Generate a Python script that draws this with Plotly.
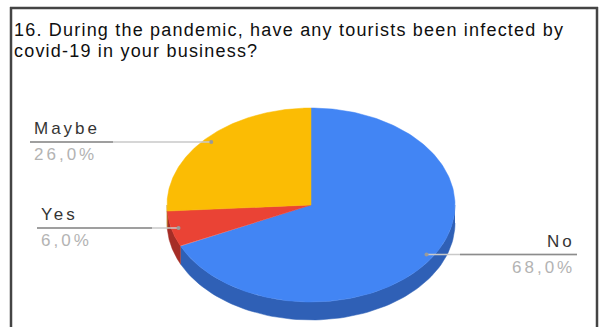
import numpy as np
import plotly.graph_objects as go

# Survey answers
labels = ["No", "Yes", "Maybe"]
values = [68.0, 6.0, 26.0]
pct_text = ["68,0%", "6,0%", "26,0%"]
title_lines = ["16. During the pandemic, have any tourists been infected by",
               "covid-19 in your business?"]

# Styling
top_colors = {"No": "#4285F4", "Yes": "#EA4335", "Maybe": "#FBBC04"}
side_colors = {"No": "#2F60B6", "Yes": "#A52D26", "Maybe": "#B98A05"}
W, H = 600, 327
cx, cy, rx, ry, depth = 311, 205, 144, 97, 18
label_pos = {
    "No": dict(align="right", edge=577, dark=(460, 577)),
    "Yes": dict(align="left", edge=37, dark=(37, 152)),
    "Maybe": dict(align="left", edge=30, dark=(30, 113)),
}


def ellipse(theta_deg, r=1.0, dz=0.0):
    """Point on the tilted pie; angle measured clockwise from 12 o'clock."""
    t = np.radians(theta_deg)
    return cx + r * rx * np.sin(t), cy - r * ry * np.cos(t) + dz


fig = go.Figure()

# Slice angles from the values
total = sum(values)
bounds = []
start = 0.0
for lab, v in zip(labels, values):
    end = start + 360.0 * v / total
    bounds.append((lab, start, end))
    start = end

# Side walls (front half only)
for lab, a0, a1 in bounds:
    lo, hi = max(a0, 90.0), min(a1, 270.0)
    if hi <= lo:
        continue
    th = np.linspace(lo, hi, 80)
    xt, yt = ellipse(th)
    xb, yb = ellipse(th[::-1], dz=depth)
    fig.add_trace(go.Scatter(
        x=np.concatenate([xt, xb]), y=np.concatenate([yt, yb]),
        fill="toself", fillcolor=side_colors[lab], mode="lines",
        line=dict(width=0.5, color=side_colors[lab]), hoverinfo="skip"))

# Top faces
for lab, a0, a1 in bounds:
    th = np.linspace(a0, a1, 200)
    xa, ya = ellipse(th)
    fig.add_trace(go.Scatter(
        x=np.concatenate([[cx], xa, [cx]]), y=np.concatenate([[cy], ya, [cy]]),
        fill="toself", fillcolor=top_colors[lab], mode="lines",
        line=dict(width=0.5, color=top_colors[lab]), hoverinfo="skip"))

# Leader lines and labels
name_font = dict(family="Liberation Sans, Arial", size=17, color="#353535")
pct_font = dict(family="Liberation Sans, Arial", size=17, color="#b3b3b3")
spaced = '<span style="letter-spacing:3px">{}</span>'
for (lab, a0, a1), pct in zip(bounds, pct_text):
    ax, ay = ellipse((a0 + a1) / 2.0, r=0.95)
    st = label_pos[lab]
    fig.add_trace(go.Scatter(x=[st["edge"], ax], y=[ay, ay], mode="lines",
                             line=dict(color="#c9c9c9", width=1.5), hoverinfo="skip"))
    fig.add_trace(go.Scatter(x=list(st["dark"]), y=[ay, ay], mode="lines",
                             line=dict(color="#8c8c8c", width=1.5), hoverinfo="skip"))
    fig.add_trace(go.Scatter(x=[ax], y=[ay], mode="markers",
                             marker=dict(color="#9a9a9a", size=4), hoverinfo="skip"))
    xanchor = "right" if st["align"] == "right" else "left"
    tx = st["edge"] + (0 if st["align"] == "right" else 2)
    fig.add_annotation(x=tx, y=ay - 13, text=spaced.format(lab), showarrow=False,
                       xanchor=xanchor, yanchor="middle", font=name_font)
    fig.add_annotation(x=tx, y=ay + 13, text=spaced.format(pct), showarrow=False,
                       xanchor=xanchor, yanchor="middle", font=pct_font)

# Title
title_font = dict(family="Liberation Sans, Arial", size=18, color="#0f0f0f")
for i, line in enumerate(title_lines):
    fig.add_annotation(x=12, y=30 + 21 * i,
                       text='<span style="letter-spacing:1.2px">{}</span>'.format(line),
                       showarrow=False, xanchor="left", yanchor="middle", font=title_font)

# Frame
frame = dict(color="#444444", width=2.5)
fig.add_shape(type="line", x0=11, x1=11, y0=7, y1=H + 5, line=frame, layer="above")
fig.add_shape(type="line", x0=10, x1=598, y0=8, y1=8, line=frame, layer="above")
fig.add_shape(type="line", x0=597, x1=597, y0=7, y1=H + 5, line=frame, layer="above")

fig.update_layout(
    width=W, height=H, margin=dict(l=0, r=0, t=0, b=0),
    paper_bgcolor="white", plot_bgcolor="white", showlegend=False,
    xaxis=dict(range=[0, W], visible=False, fixedrange=True),
    yaxis=dict(range=[H, 0], visible=False, fixedrange=True),
)

fig.write_html("out.html", config={"displayModeBar": False})
